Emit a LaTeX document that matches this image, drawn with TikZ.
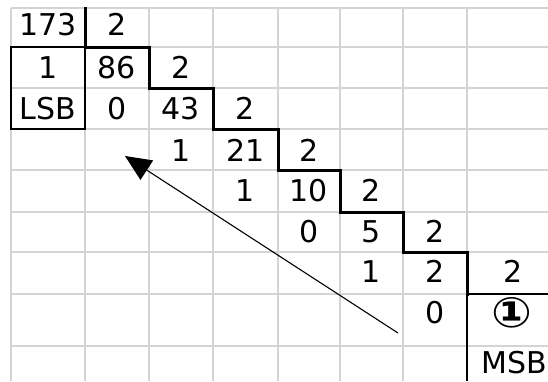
\documentclass[tikz,border=0pt]{standalone}
\usepackage{fontspec}
\setmainfont{DejaVu Sans}
\usetikzlibrary{arrows.meta}
\definecolor{gridgray}{HTML}{D4D4D4}
\tikzset{
  gridline/.style={draw=gridgray, line width=2pt},
  stair/.style={draw=black, line width=3pt, line cap=rect, line join=miter},
  thinblack/.style={draw=black, line width=1.5pt},
  txt/.style={anchor=base, inner sep=0pt, font=\fontsize{30}{30}\selectfont},
  pointer/.style={draw=black, line width=1.1pt, -{Triangle[length=26pt,width=23pt]}}
}
\begin{document}
\begin{tikzpicture}[x=1pt,y=-1pt]
\useasboundingbox[fill=white] (0,0) rectangle (548,381);
% grid
\foreach \gx in {11,85,149,213,278,340,403,467} {
  \draw[gridline] (\gx,8) -- (\gx,381);
}
\foreach \gy in {8,47,88,129,170,212,252,294,346} {
  \draw[gridline] (11,\gy) -- (548,\gy);
}
% LSB box
\draw[thinblack] (11,47) rectangle (85,129);
% staircase
\draw[stair] (85,8) -- (85,47) -- (149,47) -- (149,88) -- (213,88) -- (213,129)
  -- (278,129) -- (278,170) -- (340,170) -- (340,212) -- (403,212) -- (403,252)
  -- (467,252) -- (467,294);
\draw[line width=1.5pt] (467,294) -- (548,294);
\draw[line width=2pt] (467,294) -- (467,381);
% texts
\node[txt] (a0) at (48,35) {173};
\node[txt] (d0) at (117,35) {2};
\node[txt] (r1) at (48,78) {1};
\node[txt] (a1) at (117,78) {86};
\node[txt] (d1) at (181,78) {2};
\node[txt] (lsb) at (48,119) {LSB};
\node[txt] (r2) at (117,119) {0};
\node[txt] (a2) at (181,119) {43};
\node[txt] (d2) at (245.5,119) {2};
\node[txt] (r3) at (181,161) {1};
\node[txt] (a3) at (245.5,161) {21};
\node[txt] (d3) at (309,161) {2};
\node[txt] (r4) at (245.5,201) {1};
\node[txt] (a4) at (309,201) {10};
\node[txt] (d4) at (371.5,201) {2};
\node[txt] (r5) at (309,242) {0};
\node[txt] (a5) at (371.5,242) {5};
\node[txt] (d5) at (435,242) {2};
\node[txt] (r6) at (371.5,282) {1};
\node[txt] (a6) at (435,282) {2};
\node[txt] (d6) at (513,282) {2};
\node[txt] (r7) at (435,323) {0};
\node[anchor=center, inner sep=0pt, font=\fontsize{42}{42}\selectfont\bfseries, xscale=1.15] (a7) at (512,313) {①};
\node[txt] (msb) at (514,373) {MSB};
% arrow
\coordinate (arrS) at (398,333);
\coordinate (arrE) at (125,156);
\draw[pointer] (arrS) -- (arrE);
\end{tikzpicture}
\end{document}
